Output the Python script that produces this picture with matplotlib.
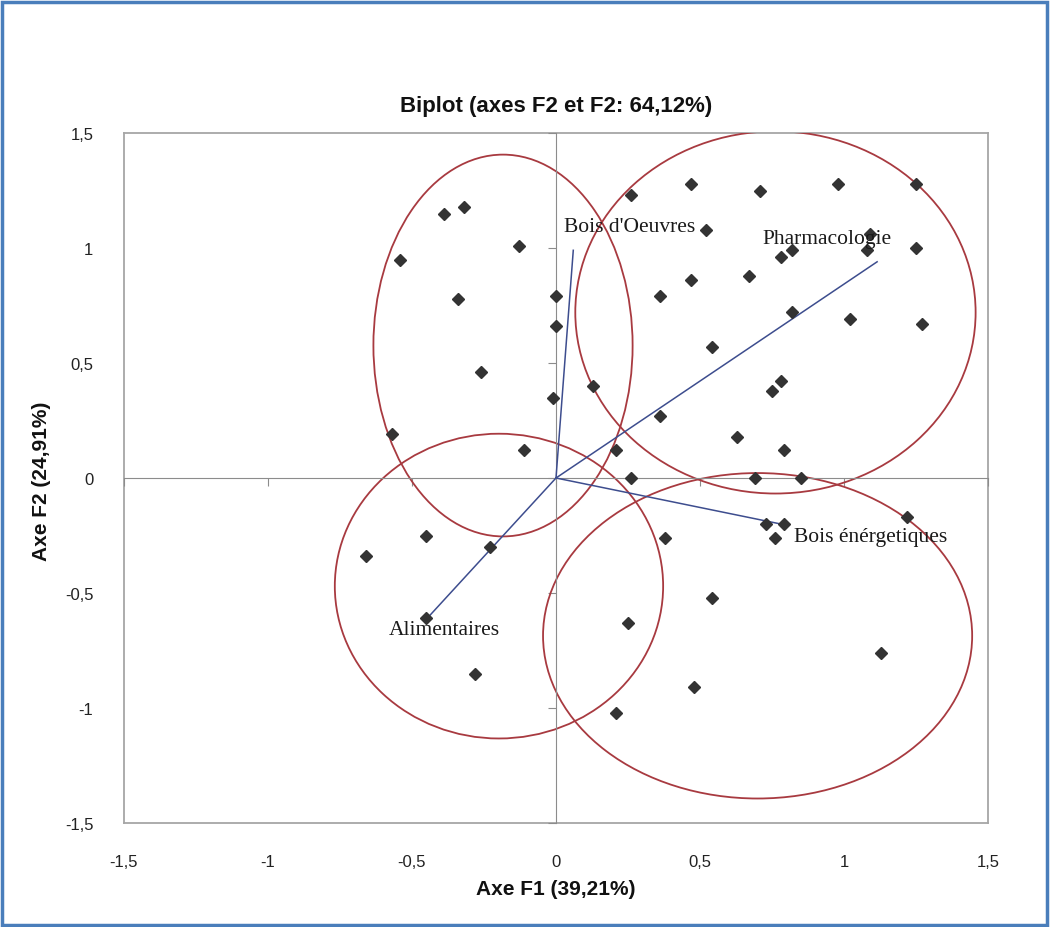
import matplotlib
matplotlib.use("Agg")
import matplotlib.pyplot as plt
from matplotlib.patches import Ellipse, Rectangle
from matplotlib import font_manager

# Observations (F1, F2)
obs_x = [-0.39, -0.32, -0.13, -0.54, -0.34, 0.00, 0.00, -0.26, -0.01, -0.57,
         -0.11, 0.13, 0.26, 0.36, 0.36, 0.21, 0.26, 0.47, 0.71, 0.98,
         1.25, 0.52, 1.09, 1.08, 1.25, 0.82, 0.78, 0.47, 0.67, 0.82,
         1.02, 1.27, 0.54, 0.78, 0.75, 0.63, 0.79, 0.69, 0.85, 1.22,
         0.73, 0.79, 0.76, 0.38, -0.45, -0.66, -0.23, -0.45, -0.28, 0.54,
         0.25, 1.13, 0.48, 0.21]
obs_y = [1.15, 1.18, 1.01, 0.95, 0.78, 0.79, 0.66, 0.46, 0.35, 0.19,
         0.12, 0.40, 1.23, 0.79, 0.27, 0.12, 0.00, 1.28, 1.25, 1.28,
         1.28, 1.08, 1.06, 0.99, 1.00, 0.99, 0.96, 0.86, 0.88, 0.72,
         0.69, 0.67, 0.57, 0.42, 0.38, 0.18, 0.12, 0.00, 0.00, -0.17,
         -0.20, -0.20, -0.26, -0.26, -0.25, -0.34, -0.30, -0.61, -0.85, -0.52,
         -0.63, -0.76, -0.91, -1.02]

# Variables (biplot vectors)
var_names = ["Bois d'Oeuvres", "Pharmacologie", "Bois énérgetiques", "Alimentaires"]
var_x = [0.06, 1.115, 0.80, -0.44]
var_y = [0.99, 0.94, -0.205, -0.60]
label_x = [0.028, 0.718, 0.825, -0.582]
label_y = [1.094, 1.04, -0.255, -0.66]

# Group ellipses: centre, width, height
grp_cx = [-0.184, 0.762, -0.198, 0.70]
grp_cy = [0.576, 0.72, -0.47, -0.686]
grp_w = [0.90, 1.39, 1.14, 1.49]
grp_h = [1.66, 1.575, 1.325, 1.415]

ticks = [-1.5, -1, -0.5, 0, 0.5, 1, 1.5]
tick_labels = ["-1,5", "-1", "-0,5", "0", "0,5", "1", "1,5"]

names = {f.name for f in font_manager.fontManager.ttflist}
narrow = ["Liberation Sans Narrow", "Liberation Sans"] if "Liberation Sans Narrow" in names else ["Liberation Sans"]

W, H = 1051, 928
fig = plt.figure(figsize=(W / 100, H / 100), dpi=100)
pos = [124 / W, 1 - 824 / H, 864 / W, 690 / H]

# frame + tick labels
axf = fig.add_axes(pos)
axf.set_xlim(-1.5, 1.5)
axf.set_ylim(-1.5, 1.5)
axf.set_xticks(ticks)
axf.set_xticklabels(tick_labels)
axf.set_yticks(ticks)
axf.set_yticklabels(tick_labels)
axf.tick_params(length=0, labelsize=12, pad=22, colors="#222222")
for lab in axf.get_xticklabels() + axf.get_yticklabels():
    lab.set_family("Liberation Sans")
for s in axf.spines.values():
    s.set_color("#A6A6A6")
    s.set_linewidth(1.3)
axf.set_title("Biplot (axes F2 et F2: 64,12%)", family=narrow, fontweight="bold",
              fontsize=16, pad=16, color="#111111")

# data axes, axis lines through the origin
ax = fig.add_axes(pos, sharex=axf, sharey=axf)
ax.patch.set_visible(False)
ax.spines["top"].set_visible(False)
ax.spines["right"].set_visible(False)
ax.spines["left"].set_position(("data", 0))
ax.spines["bottom"].set_position(("data", 0))
ax.spines["left"].set_color("#8C8C8C")
ax.spines["bottom"].set_color("#8C8C8C")
ax.tick_params(direction="out", length=6, color="#8C8C8C",
               labelleft=False, labelbottom=False)

for cx, cy, w, h in zip(grp_cx, grp_cy, grp_w, grp_h):
    ax.add_patch(Ellipse((cx, cy), w, h, fill=False, edgecolor="#A83A40", lw=1.3, zorder=2))

for vx, vy in zip(var_x, var_y):
    ax.plot([0, vx], [0, vy], color="#3D4D8E", lw=1.1, zorder=3)

ax.plot(obs_x, obs_y, linestyle="none", marker="D", markersize=6.5,
        color="#333333", zorder=4)

for name, lx, ly in zip(var_names, label_x, label_y):
    ax.text(lx, ly, name, family="Liberation Serif", fontsize=15.5,
            va="center", ha="left", color="#1a1a1a", zorder=5)

fig.text(42 / W, 1 - 481 / H, "Axe F2 (24,91%)", rotation=90, ha="center", va="center",
         family=narrow, fontweight="bold", fontsize=15, color="#111111")
fig.text(556 / W, 1 - 890 / H, "Axe F1 (39,21%)", ha="center", va="center",
         family=narrow, fontweight="bold", fontsize=15, color="#111111")

fig.patches.append(Rectangle((2 / W, 2 / H), 1 - 6 / W, 1 - 5 / H, transform=fig.transFigure,
                             fill=False, edgecolor="#4A7EBB", lw=2.5))

fig.savefig("out.png", dpi=100)
